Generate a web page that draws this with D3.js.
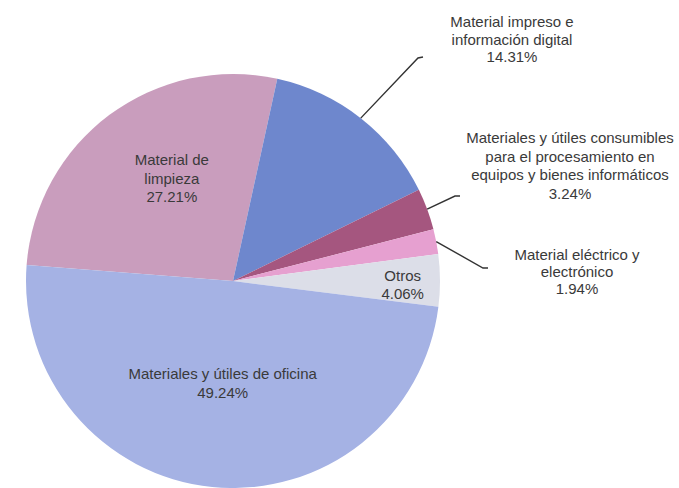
<!DOCTYPE html>
<html><head><meta charset="utf-8">
<script src="https://cdn.jsdelivr.net/npm/d3@7"></script>
<style>body{margin:0;background:#fff}svg{display:block}text{font-family:"Liberation Sans",Arial,sans-serif;fill:#3a3a3a}</style>
</head><body>
<svg id="c" width="679" height="488"></svg>
<script>
const categories = [
  "Material de limpieza",
  "Material impreso e información digital",
  "Materiales y útiles consumibles para el procesamiento en equipos y bienes informáticos",
  "Material eléctrico y electrónico",
  "Otros",
  "Materiales y útiles de oficina"
];
const values = [27.21, 14.31, 3.24, 1.94, 4.06, 49.24];
const colors = ["#c99dbd", "#6e87cd", "#a5567f", "#e6a0d0", "#dcdee8", "#a5b2e4"];
const labelLines = [
  ["Material de", "limpieza", "27.21%"],
  ["Material impreso e", "información digital", "14.31%"],
  ["Materiales y útiles consumibles", "para el procesamiento en", "equipos y bienes informáticos", "3.24%"],
  ["Material eléctrico y", "electrónico", "1.94%"],
  ["Otros", "4.06%"],
  ["Materiales y útiles de oficina", "49.24%"]
];

const svg = d3.select("#c");
const cx = 233, cy = 281, R = 207;
const deg = Math.PI / 180;
const start = -85.6 * deg;
const pie = d3.pie().sort(null).value(d => d).startAngle(start).endAngle(start + 2 * Math.PI);
const arcs = pie(values);
const arc = d3.arc().innerRadius(0).outerRadius(R);
const g = svg.append("g").attr("transform", `translate(${cx},${cy})`);
g.selectAll("path").data(arcs).join("path")
  .attr("d", arc).attr("fill", (d, i) => colors[i]);

const fs = 15, lh = 18.5;
// inside labels: [radius fraction, angle offset in degrees]
const inside = {0: [0.575, 5.7], 4: [0.82, 1.5], 5: [0.497, 0]};
Object.entries(inside).forEach(([k, [rf, off]]) => {
  const i = +k, a = arcs[i];
  const m = (a.startAngle + a.endAngle) / 2 + off * deg;
  const x = Math.sin(m) * R * rf, y = -Math.cos(m) * R * rf;
  const lines = labelLines[i];
  const t = g.append("text").attr("text-anchor", "middle").attr("font-size", fs);
  lines.forEach((l, j) => t.append("tspan").attr("x", x).attr("y", y + (j - (lines.length - 1) / 2) * lh + 5).text(l));
});

// outside labels with leader lines
const outside = {
  1: {elbow: [418, 58], end: [423, 57], tx: 512, ty: 22, lh: 17.5},
  2: {elbow: [455, 196], end: [460, 196], tx: 570, ty: 138, lh: 18.7},
  3: {elbow: [483, 268], end: [488, 268], tx: 577, ty: 255, lh: 17}
};
Object.entries(outside).forEach(([k, o]) => {
  const i = +k, a = arcs[i];
  const m = (a.startAngle + a.endAngle) / 2;
  const p0 = [cx + Math.sin(m) * R, cy - Math.cos(m) * R];
  svg.append("path").attr("d", d3.line()([p0, o.elbow, o.end]))
    .attr("fill", "none").attr("stroke", "#333").attr("stroke-width", 1.4);
  const t = svg.append("text").attr("text-anchor", "middle").attr("font-size", fs);
  labelLines[i].forEach((l, j) => t.append("tspan").attr("x", o.tx).attr("y", o.ty + j * o.lh + 5).text(l));
});
</script>
</body></html>
